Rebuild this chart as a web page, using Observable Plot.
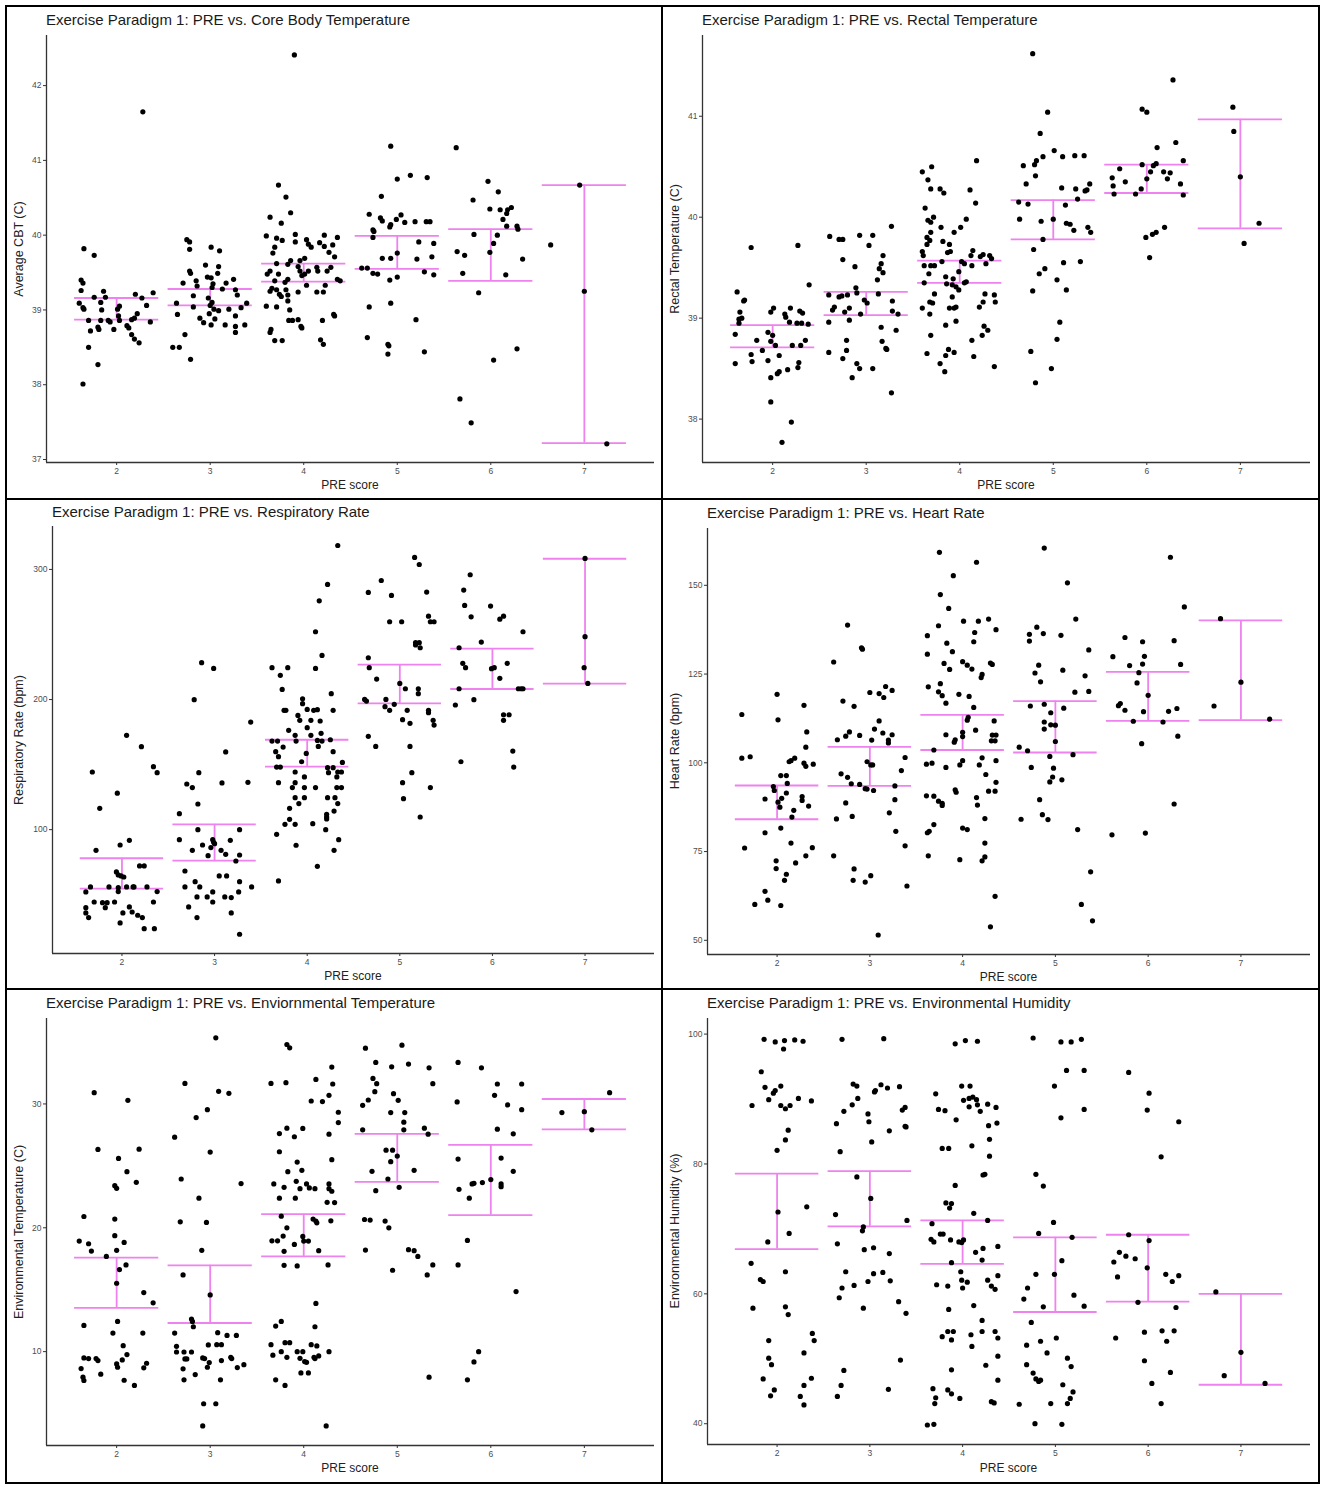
<!DOCTYPE html>
<html>
<head>
<meta charset="utf-8">
<script src="https://cdn.jsdelivr.net/npm/d3@7"></script>
<script src="https://cdn.jsdelivr.net/npm/@observablehq/plot@0.6"></script>
<style>
  html, body { margin: 0; padding: 0; background: #fff; }
  #root { position: relative; width: 1325px; height: 1489px; font-family: "Liberation Sans", Arial, sans-serif; }
  .frame { position: absolute; left: 5px; top: 5px; width: 1311px; height: 1475px; border: 2px solid #000; }
  .vdiv { position: absolute; left: 661px; top: 6px; width: 2px; height: 1477px; background: #000; }
  .hdiv { position: absolute; left: 6px; width: 1313px; height: 2px; background: #000; }
  .panel { position: absolute; }
  .panel svg { position: absolute; left: 0; top: 0; }
  .ptitle { position: absolute; font-size: 15px; line-height: 16px; color: #1a1a1a; white-space: nowrap; }
  .xtitle { position: absolute; font-size: 12px; line-height: 14px; color: #222; text-align: center; white-space: nowrap; }
  .ytitle { position: absolute; font-size: 12.5px; line-height: 14px; color: #222; white-space: nowrap; transform: translate(-50%, -50%) rotate(-90deg); }
</style>
</head>
<body>
<div id="root">
  <div class="frame"></div>
  <div class="vdiv"></div>
  <div class="hdiv" style="top:498px"></div>
  <div class="hdiv" style="top:988px"></div>
</div>
<script>
const preScores = [2, 3, 4, 5, 6, 7];

// ---- Panel 1: Core body temperature ----
const cbtPoints = [
[1.65,39.82],[1.76,39.73],[1.62,39.40],[1.64,39.36],[1.62,39.26],[1.60,39.09],[1.64,39.03],[1.65,39.01],[1.70,38.86],[1.72,38.72],
[1.70,38.50],[1.80,38.27],[1.64,38.01],[1.76,39.17],[1.86,39.25],[1.88,39.17],[1.83,39.10],[1.84,39.00],[1.83,38.86],[1.80,38.77],
[1.81,38.74],[1.91,38.86],[1.93,38.84],[1.97,38.74],[2.01,39.01],[2.03,39.05],[2.02,38.92],[2.03,38.86],[2.11,38.79],[2.13,38.76],
[2.16,38.67],[2.19,38.61],[2.24,38.56],[2.16,38.87],[2.19,38.89],[2.22,38.95],[2.20,39.21],[2.27,39.16],[2.32,39.06],[2.36,38.84],
[2.39,39.23],[2.28,41.65],
[2.75,39.94],[2.78,39.91],[2.78,39.81],[3.01,39.84],[3.10,39.79],[2.95,39.60],[3.09,39.58],[3.08,39.49],[2.78,39.52],[2.79,39.49],
[2.71,39.36],[2.85,39.39],[2.86,39.32],[2.97,39.44],[3.01,39.43],[3.03,39.35],[3.02,39.30],[3.13,39.28],[3.17,39.36],[3.25,39.41],
[3.27,39.27],[3.29,39.20],[2.64,39.09],[2.82,39.19],[2.82,39.04],[3.02,39.10],[3.00,39.06],[3.04,39.01],[2.99,38.95],[3.09,38.99],
[3.20,39.01],[3.33,39.03],[3.39,39.09],[2.65,38.94],[2.89,38.89],[2.93,38.83],[3.01,38.80],[3.05,38.88],[3.16,38.80],[3.27,38.92],
[3.27,38.78],[3.37,38.80],[3.27,38.70],[2.73,38.67],[2.60,38.50],[2.67,38.50],[2.79,38.34],[2.98,39.16],
[3.90,42.41],[3.73,40.67],[3.81,40.51],[3.86,40.30],[3.64,40.24],[3.76,40.16],[3.60,39.99],[3.71,39.96],[3.77,39.93],[3.91,40.01],
[3.91,39.91],[4.03,39.94],[4.05,39.88],[4.08,39.84],[4.22,40.00],[4.17,39.90],[4.22,39.85],[4.31,39.87],[4.36,39.97],[3.69,39.84],
[3.67,39.76],[3.71,39.62],[3.83,39.61],[3.86,39.66],[3.96,39.66],[4.01,39.69],[4.27,39.77],[4.33,39.71],[3.64,39.52],[3.61,39.48],
[3.73,39.48],[3.94,39.58],[3.96,39.52],[3.98,39.46],[4.01,39.48],[4.05,39.52],[4.14,39.57],[4.15,39.52],[4.29,39.57],[4.25,39.52],
[4.36,39.41],[4.39,39.39],[3.69,39.39],[3.80,39.37],[3.83,39.41],[3.81,39.27],[3.66,39.29],[3.64,39.25],[3.74,39.21],[3.76,39.18],
[3.71,39.27],[3.83,39.20],[3.83,39.12],[3.94,39.24],[4.03,39.33],[4.14,39.24],[4.23,39.33],[4.21,39.24],[3.60,39.05],[3.71,39.04],
[3.85,39.00],[3.84,38.86],[3.88,38.86],[3.94,38.87],[3.97,38.78],[3.98,38.76],[4.20,38.86],[4.32,38.94],[4.33,38.92],[3.65,38.74],
[3.64,38.70],[3.69,38.59],[3.77,38.59],[4.18,38.60],[4.21,38.54],
[4.93,41.19],[5.14,40.80],[5.00,40.75],[5.32,40.77],[4.83,40.52],[4.70,40.28],[4.82,40.23],[4.84,40.19],[4.93,40.14],[4.92,40.11],
[4.99,40.21],[5.04,40.27],[5.08,40.17],[5.19,40.18],[5.31,40.18],[5.35,40.18],[4.74,40.07],[4.75,40.05],[4.74,39.97],[5.23,39.91],
[5.39,39.89],[5.00,39.76],[4.84,39.69],[4.93,39.69],[5.21,39.68],[5.37,39.71],[4.62,39.56],[4.68,39.56],[4.74,39.49],[4.79,39.48],
[5.00,39.44],[4.92,39.40],[5.29,39.51],[5.39,39.47],[4.93,39.09],[4.70,39.04],[5.20,38.87],[4.68,38.63],[4.90,38.54],[4.91,38.52],
[4.90,38.41],[5.29,38.44],
[5.63,41.17],[5.97,40.72],[5.81,40.47],[6.08,40.58],[5.99,40.35],[6.10,40.34],[6.18,40.34],[6.22,40.37],[6.13,40.21],[6.17,40.29],
[6.17,40.12],[6.28,40.12],[6.29,40.08],[5.82,40.01],[6.07,40.00],[6.03,39.89],[5.99,39.77],[5.64,39.78],[5.72,39.73],[6.34,39.68],
[5.70,39.49],[6.16,39.47],[5.87,39.23],[6.28,38.48],[6.03,38.33],[5.67,37.81],[5.79,37.49],
[6.64,39.87],[7.00,39.25],[7.24,37.21],[6.95,40.67]
];
const cbtLow  = [38.87, 39.06, 39.38, 39.55, 39.39, 37.22];
const cbtHigh = [39.16, 39.28, 39.62, 39.99, 40.08, 40.67];
const cbtTicks = [37, 38, 39, 40, 41, 42];

// ---- Panel 2: Rectal temperature ----
const rectPoints = [
[1.77,39.70],[1.62,39.26],[1.65,39.06],[1.64,38.99],[1.67,39.00],[1.64,38.95],[1.60,38.84],[1.60,38.55],[1.69,39.17],[1.70,39.18],
[1.77,38.64],[1.78,38.57],[1.83,38.78],[1.89,38.68],[1.95,38.86],[1.98,38.77],[2.00,38.83],[2.03,38.73],[1.95,38.58],[1.98,38.41],
[1.98,38.17],[1.98,39.06],[2.01,39.10],[2.07,38.63],[2.07,38.47],[2.05,38.45],[2.10,37.77],[2.13,39.04],[2.14,39.01],[2.19,39.10],
[2.18,38.96],[2.21,38.73],[2.16,38.49],[2.20,37.97],[2.27,38.51],[2.28,38.56],[2.30,38.73],[2.35,38.78],[2.29,39.07],[2.32,39.05],
[2.31,38.95],[2.26,38.95],[2.38,38.94],[2.39,39.33],[2.27,39.72],
[2.61,39.81],[2.71,39.78],[2.75,39.78],[2.93,39.82],[3.07,39.82],[3.03,39.72],[3.27,39.91],[3.18,39.62],[3.16,39.54],[3.14,39.49],
[3.18,39.45],[3.12,39.38],[2.75,39.58],[2.88,39.51],[2.89,39.30],[2.60,39.23],[2.71,39.21],[2.74,39.22],[2.80,39.23],[2.90,39.25],
[2.98,39.18],[3.01,39.15],[3.13,39.24],[3.28,39.17],[2.66,39.11],[2.64,39.08],[2.77,39.06],[2.82,39.10],[2.94,39.04],[2.82,38.98],
[2.60,38.96],[3.28,39.07],[3.34,39.04],[3.16,38.91],[3.32,38.88],[2.79,38.78],[3.17,38.77],[3.21,38.70],[3.22,38.69],[2.60,38.66],
[2.79,38.68],[2.75,38.60],[2.90,38.55],[2.93,38.50],[3.07,38.50],[2.85,38.41],[3.27,38.26],
[3.60,40.45],[3.70,40.50],[3.66,40.37],[3.69,40.28],[3.79,40.28],[3.83,40.24],[4.18,40.56],[4.11,40.27],[4.17,40.14],[3.63,40.09],
[3.72,40.00],[3.66,39.97],[3.69,39.95],[3.80,39.90],[4.01,39.90],[4.07,39.98],[3.69,39.85],[3.94,39.85],[3.65,39.80],[3.68,39.77],
[3.82,39.76],[3.89,39.73],[3.65,39.73],[3.60,39.66],[3.90,39.66],[3.87,39.65],[3.61,39.62],[3.62,39.52],[3.69,39.52],[3.73,39.52],
[3.81,39.56],[3.67,39.44],[3.99,39.46],[4.02,39.56],[4.05,39.54],[4.12,39.62],[4.14,39.67],[4.13,39.52],[4.22,39.61],[4.25,39.63],
[4.32,39.62],[4.34,39.59],[4.28,39.54],[3.62,39.35],[3.85,39.41],[3.86,39.34],[3.93,39.39],[3.92,39.33],[3.96,39.31],[3.99,39.28],
[4.05,39.35],[4.07,39.36],[3.73,39.24],[3.92,39.21],[4.27,39.24],[4.37,39.23],[4.25,39.16],[4.21,39.11],[4.38,39.16],[3.68,39.16],
[3.71,39.15],[3.60,39.10],[3.89,39.10],[3.94,39.10],[3.96,39.11],[3.68,39.04],[3.96,38.97],[3.85,38.93],[4.26,38.92],[4.30,38.88],
[4.24,38.83],[3.69,38.83],[4.13,38.78],[3.65,38.65],[3.88,38.69],[3.85,38.63],[3.94,38.66],[4.15,38.62],[3.79,38.55],[3.84,38.47],
[4.37,38.52],
[4.78,41.62],[4.94,41.04],[4.86,40.83],[5.01,40.66],[4.89,40.60],[5.10,40.60],[5.23,40.61],[5.33,40.61],[4.68,40.51],[4.80,40.52],
[4.82,40.56],[4.81,40.41],[4.71,40.33],[5.09,40.29],[5.24,40.28],[5.39,40.33],[5.34,40.26],[5.36,40.27],[5.26,40.18],[4.63,40.15],
[4.73,40.13],[5.13,40.12],[4.64,39.98],[4.87,39.96],[5.00,39.98],[5.14,39.94],[5.18,39.93],[5.22,39.87],[5.37,39.90],[5.40,39.85],
[4.89,39.78],[4.79,39.68],[5.11,39.55],[5.29,39.56],[4.91,39.49],[4.85,39.44],[5.04,39.38],[5.14,39.28],[4.78,39.27],[5.07,38.96],
[5.04,38.79],[4.76,38.67],[4.98,38.50],[4.81,38.36],
[6.28,41.36],[5.95,41.07],[6.00,41.04],[6.31,40.74],[6.11,40.69],[5.71,40.48],[5.63,40.39],[5.77,40.35],[5.64,40.31],[5.65,40.23],
[5.88,40.23],[5.94,40.28],[5.95,40.52],[6.07,40.51],[6.10,40.53],[6.04,40.45],[6.00,40.38],[6.18,40.45],[6.25,40.44],[6.22,40.38],
[6.36,40.33],[6.39,40.22],[6.39,40.56],[5.99,39.80],[6.06,39.83],[6.10,39.85],[6.19,39.90],[6.03,39.60],
[6.92,41.09],[6.93,40.85],[7.00,40.40],[7.20,39.94],[7.04,39.74]
];
const rectLow  = [38.71, 39.03, 39.35, 39.78, 40.24, 39.89];
const rectHigh = [38.93, 39.26, 39.57, 40.17, 40.52, 40.97];
const rectTicks = [38, 39, 40, 41];

// ---- Panel 3: Respiratory rate ----
const respPoints = [
[1.68,144.3],[1.95,128.0],[1.76,116.4],[2.05,172.5],[2.21,163.8],[2.34,148.4],[2.38,143.8],[1.72,84.1],[1.98,88.2],[2.08,91.8],
[1.94,67.5],[1.96,65.2],[1.99,64.4],[2.02,63.6],[2.19,72.1],[2.24,72.1],[1.66,56.0],[1.61,52.1],[1.86,56.0],[1.96,55.4],
[1.96,52.4],[2.05,56.0],[2.12,56.0],[2.13,56.0],[2.27,56.0],[2.38,52.4],[1.70,44.4],[1.79,43.9],[1.84,43.9],[1.92,44.4],
[1.82,40.0],[1.61,40.0],[1.61,36.0],[1.64,32.4],[2.01,36.0],[2.08,40.6],[2.11,36.7],[2.17,34.2],[2.22,32.4],[2.34,44.4],
[1.98,28.3],[2.24,23.9],[2.35,23.9],
[2.86,228.3],[2.99,223.9],[2.78,199.9],[3.39,182.7],[3.12,159.7],[2.83,143.8],[2.70,135.1],[2.76,132.3],[3.08,135.9],[3.36,136.4],
[2.82,119.7],[2.62,112.3],[2.82,100.0],[3.27,100.0],[2.62,92.3],[2.98,92.3],[2.99,90.3],[3.00,89.2],[2.87,88.2],[2.96,86.2],
[3.17,91.8],[2.76,84.1],[3.07,84.1],[3.12,81.0],[2.93,80.0],[3.27,80.5],[3.23,75.9],[2.68,68.2],[3.05,64.4],[3.13,64.4],
[2.79,60.0],[3.27,60.0],[2.68,56.0],[2.84,56.0],[3.26,52.1],[3.40,56.0],[2.98,52.1],[2.81,48.3],[2.92,48.3],[2.98,44.4],
[3.11,48.3],[3.18,47.8],[2.72,40.6],[2.81,32.4],[3.18,36.0],[3.27,19.6],
[4.33,318.4],[4.22,288.5],[4.13,275.9],[4.09,252.1],[4.16,233.9],[3.62,224.5],[3.79,224.5],[4.09,223.9],[3.71,218.6],[3.73,207.8],
[4.26,204.5],[3.95,200.6],[3.95,196.8],[3.75,191.7],[3.77,191.7],[4.00,192.4],[4.07,191.7],[4.11,192.2],[4.28,191.7],[3.90,187.8],
[3.92,184.0],[4.04,184.0],[4.14,183.5],[4.00,178.4],[3.80,176.3],[3.87,172.5],[4.04,172.5],[4.15,174.0],[3.62,168.1],[3.68,168.1],
[3.88,168.1],[4.11,168.6],[4.16,168.1],[4.25,169.1],[3.74,163.5],[3.66,159.9],[3.69,156.1],[4.28,159.9],[4.12,164.0],[3.99,158.6],
[3.94,152.2],[4.38,151.7],[3.67,148.1],[3.71,148.1],[4.22,147.6],[4.28,147.6],[3.87,144.3],[4.23,143.8],[4.33,144.3],[4.37,144.3],
[4.32,140.5],[3.97,140.5],[3.69,136.1],[3.87,136.1],[3.84,132.3],[3.97,132.3],[4.09,132.3],[4.32,132.3],[4.37,132.3],[3.87,124.6],
[3.97,124.6],[4.22,124.6],[4.30,124.6],[3.91,120.0],[4.33,120.0],[3.81,116.4],[4.29,114.3],[4.21,111.8],[4.21,109.7],[4.21,108.2],
[3.81,107.9],[3.76,104.1],[3.87,104.1],[4.06,104.6],[4.20,100.0],[3.67,96.4],[4.34,92.3],[3.88,88.0],[4.29,84.1],[4.11,71.8],
[3.69,60.6],
[5.16,309.2],[5.21,303.8],[4.80,291.5],[4.66,282.3],[5.29,282.6],[4.91,280.0],[5.31,264.1],[4.89,259.8],[5.02,259.8],[5.33,259.8],
[5.37,259.8],[5.17,243.7],[5.21,243.7],[5.17,241.9],[5.22,239.8],[4.66,232.1],[4.67,224.5],[4.75,215.7],[5.00,212.4],[5.06,208.3],
[5.20,208.3],[5.20,204.5],[4.62,200.1],[4.64,198.8],[4.85,200.1],[4.94,196.3],[4.84,194.5],[4.89,191.7],[5.08,191.7],[5.31,191.7],
[5.31,189.9],[5.03,184.5],[5.36,184.0],[5.37,180.4],[5.11,181.7],[4.66,171.7],[4.74,164.0],[5.11,164.0],[5.13,143.8],[5.03,136.1],
[5.33,132.3],[5.04,123.8],[5.22,109.7],
[5.76,295.9],[5.69,284.1],[5.70,272.3],[5.98,271.8],[5.77,263.6],[6.12,264.1],[6.08,261.8],[6.33,252.1],[5.88,244.2],[5.64,239.8],
[5.68,227.8],[6.16,227.8],[5.71,224.5],[5.99,223.7],[6.02,224.5],[6.08,216.3],[5.64,208.3],[6.28,208.3],[6.31,208.3],[6.33,208.3],
[5.60,195.8],[5.80,199.9],[6.12,188.3],[6.18,188.3],[6.12,184.0],[5.66,152.2],[6.22,160.4],[6.23,148.1],
[7.00,308.5],[7.00,248.3],[6.99,224.5],[7.03,212.4]
];
const respLow  = [54.7, 76.2, 148.4, 197.1, 208.1, 212.2];
const respHigh = [78.0, 104.1, 169.1, 226.8, 239.1, 308.2];
const respTicks = [100, 200, 300];

// ---- Panel 4: Heart rate ----
const hrPoints = [
[1.62,113.6],[1.62,101.3],[1.71,101.7],[1.65,76.0],[1.76,60.1],[1.87,89.8],[1.87,80.3],[1.87,63.8],[1.90,61.3],[1.96,93.3],
[1.97,92.2],[2.00,119.3],[2.01,112.1],[2.01,88.9],[2.03,87.5],[2.05,90.0],[2.04,96.4],[2.10,96.4],[2.11,94.2],[2.10,91.5],
[2.04,81.6],[2.18,86.6],[2.16,84.7],[2.13,100.3],[2.15,100.6],[2.19,101.3],[1.99,72.4],[1.99,70.2],[2.10,68.6],[2.08,66.9],
[2.15,77.4],[2.20,71.8],[2.04,59.8],[2.29,116.2],[2.32,108.7],[2.31,104.4],[2.29,99.9],[2.31,99.0],[2.39,99.6],[2.27,90.5],
[2.27,89.4],[2.34,87.8],[2.38,76.1],[2.31,73.8],
[2.76,138.8],[2.61,128.4],[2.91,132.4],[2.92,132.0],[2.71,117.4],[2.83,115.9],[3.17,121.5],[3.24,120.4],[3.00,119.8],[3.10,119.5],
[3.15,118.4],[3.10,111.8],[3.05,109.5],[2.78,108.7],[2.74,107.5],[2.89,107.7],[2.65,106.5],[3.02,106.4],[3.14,108.4],[3.20,106.4],
[3.24,107.9],[3.20,105.6],[2.97,100.3],[3.38,101.5],[3.01,99.4],[3.03,99.4],[3.34,97.8],[2.69,96.9],[2.76,95.9],[2.80,94.1],
[2.89,93.9],[2.95,92.7],[2.97,92.6],[3.04,92.2],[3.27,93.5],[2.74,88.7],[3.27,89.6],[2.81,84.9],[2.64,84.2],[3.21,85.9],
[3.28,80.7],[3.38,76.6],[2.61,73.8],[2.83,70.1],[2.82,66.9],[2.95,66.4],[3.01,68.2],[3.40,65.3],[3.09,51.5],
[3.75,159.3],[4.15,156.5],[3.90,152.7],[3.76,147.4],[3.85,143.5],[3.74,138.6],[4.01,139.9],[4.17,139.9],[4.28,140.5],[4.36,137.5],
[3.62,135.8],[4.13,136.7],[3.83,133.7],[3.89,131.3],[3.62,130.6],[4.12,134.1],[3.80,128.0],[4.00,128.5],[4.05,127.5],[4.10,126.4],
[3.86,126.3],[4.21,124.9],[4.20,124.0],[4.30,128.1],[4.32,127.7],[3.63,121.4],[3.76,122.3],[3.74,120.0],[3.78,118.9],[3.96,119.3],
[4.07,118.7],[3.82,116.8],[4.12,115.6],[4.06,112.8],[4.05,112.0],[4.14,109.2],[4.34,111.8],[3.82,107.9],[4.00,108.6],[4.00,107.4],
[3.92,106.5],[3.91,105.8],[4.32,107.8],[4.36,107.8],[4.31,106.2],[4.35,106.2],[3.69,103.6],[3.61,99.6],[3.67,99.9],[3.82,98.7],
[3.97,99.4],[4.00,100.6],[4.21,101.4],[4.18,99.4],[4.25,96.7],[4.36,100.6],[4.36,94.5],[3.92,92.4],[3.93,91.7],[4.28,92.0],
[4.35,92.0],[3.61,90.7],[3.69,90.6],[3.74,89.2],[3.78,88.6],[3.78,88.0],[4.15,90.2],[4.16,88.1],[4.24,84.3],[3.69,82.6],
[3.64,80.7],[3.62,80.3],[4.00,81.6],[4.05,81.2],[4.24,77.4],[3.63,73.8],[3.97,72.7],[4.24,73.5],[4.21,72.4],[4.35,62.4],
[4.30,53.8],
[4.88,160.5],[5.13,150.7],[5.22,140.5],[4.80,138.2],[4.72,136.2],[4.87,136.4],[5.06,135.9],[4.72,134.3],[5.36,131.8],[4.82,127.5],
[4.78,125.3],[5.08,126.1],[4.84,122.8],[5.32,124.5],[5.21,119.9],[5.36,120.1],[4.73,116.0],[4.88,116.5],[4.95,114.1],[5.09,115.4],
[4.88,111.5],[4.95,110.7],[5.00,110.6],[4.88,109.5],[5.00,106.0],[4.61,104.4],[4.70,103.4],[4.94,101.8],[5.19,102.3],[4.74,98.7],
[4.98,98.5],[4.97,96.0],[5.07,95.2],[4.94,94.6],[4.83,89.6],[4.63,84.1],[4.86,85.4],[4.92,84.0],[5.24,81.2],[5.38,69.3],
[5.28,60.1],[5.40,55.5],
[6.24,157.9],[6.39,143.9],[5.62,129.9],[5.75,135.3],[5.94,134.1],[6.28,134.4],[5.96,130.0],[5.80,127.4],[5.94,127.8],[6.35,127.7],
[5.90,125.4],[5.88,122.5],[6.00,119.0],[5.68,116.1],[5.70,116.7],[5.75,114.8],[5.84,111.7],[5.95,114.4],[6.16,111.5],[6.22,114.5],
[6.31,115.3],[6.32,107.5],[5.93,105.4],[6.28,88.4],[5.61,79.7],[5.97,80.2],
[6.78,140.6],[7.00,122.7],[6.71,116.0],[7.31,112.3]
];
const hrLow  = [84.1, 93.5, 103.6, 102.9, 111.8, 112.0];
const hrHigh = [93.6, 104.5, 113.5, 117.4, 125.6, 140.1];
const hrTicks = [50, 75, 100, 125, 150];

// ---- Panel 5: Environmental temperature ----
const envTPoints = [
[1.76,30.91],[2.12,30.29],[1.80,26.33],[2.24,26.35],[2.02,25.60],[2.11,24.53],[2.21,23.67],[1.98,23.40],[2.00,23.19],[1.65,20.91],
[1.98,20.70],[1.60,18.93],[1.70,18.71],[1.73,18.12],[1.98,19.36],[2.00,18.18],[2.08,18.82],[1.89,17.69],[2.03,16.62],[2.10,17.00],
[2.00,15.52],[2.29,14.77],[2.39,13.94],[1.65,12.12],[2.01,12.44],[1.96,11.50],[2.28,11.50],[2.07,10.48],[2.11,9.76],[1.65,9.49],
[1.70,9.44],[1.78,9.44],[1.80,9.28],[2.06,9.33],[2.00,9.01],[2.01,8.74],[2.32,9.06],[2.29,8.69],[1.62,8.63],[1.64,7.94],
[1.65,7.67],[1.83,8.18],[2.08,7.69],[2.19,7.27],
[3.06,35.34],[2.73,31.66],[3.09,31.02],[3.20,30.86],[2.97,29.54],[2.85,28.90],[2.62,27.32],[3.00,26.11],[2.69,23.94],[3.33,23.57],
[2.88,22.39],[2.68,20.48],[2.96,20.43],[2.91,18.18],[2.71,16.19],[3.00,14.58],[2.80,12.63],[2.81,12.44],[2.82,12.01],[2.62,11.50],
[3.08,11.53],[3.18,11.31],[3.28,11.31],[2.64,10.43],[2.98,10.54],[3.07,10.56],[3.12,10.56],[2.64,9.97],[2.72,9.97],[2.80,9.97],
[2.73,9.41],[2.75,9.41],[2.92,9.49],[2.94,9.44],[2.99,9.12],[3.12,9.28],[3.22,9.54],[3.23,9.44],[2.97,8.74],[3.29,8.71],
[3.36,8.95],[2.71,8.61],[2.84,8.15],[2.72,7.72],[3.11,7.72],[2.93,5.79],[3.06,5.79],[2.92,4.00],
[3.82,34.80],[3.85,34.53],[4.30,32.98],[4.13,31.98],[3.65,31.66],[3.81,31.72],[4.31,31.61],[4.27,30.70],[4.08,30.24],[4.20,30.19],
[4.37,29.33],[4.37,28.50],[3.82,28.04],[3.99,28.02],[3.74,27.61],[4.27,27.56],[3.90,27.35],[3.74,26.14],[4.30,25.50],[3.93,25.31],
[3.83,24.53],[3.98,24.64],[3.92,23.75],[3.68,23.54],[3.79,23.27],[3.96,23.16],[4.03,23.54],[4.06,23.22],[4.12,23.16],[4.27,23.54],
[4.27,23.16],[4.30,22.95],[3.74,22.39],[3.91,22.39],[4.25,22.06],[4.33,22.04],[3.76,20.94],[4.10,20.70],[4.13,20.54],[4.14,20.40],
[4.29,20.56],[3.82,20.00],[3.78,19.33],[3.66,18.95],[3.72,18.95],[3.99,19.30],[4.00,18.93],[4.05,18.93],[3.90,18.66],[3.79,18.10],
[4.16,18.15],[3.79,16.97],[3.93,16.92],[4.26,17.00],[4.13,13.89],[3.76,12.44],[3.70,12.06],[4.12,12.01],[3.65,10.56],[3.80,10.72],
[3.85,10.72],[4.08,10.56],[4.14,10.46],[3.67,9.71],[3.82,9.54],[3.76,10.00],[3.93,10.00],[3.99,10.00],[4.27,10.00],[3.96,9.46],
[4.03,9.14],[4.01,9.20],[4.11,9.54],[4.12,9.44],[4.16,9.65],[3.97,8.28],[4.05,8.28],[3.70,7.72],[3.80,7.27],[4.24,4.00],
[5.05,34.75],[4.66,34.50],[4.77,33.35],[5.12,33.22],[4.94,33.00],[5.34,32.92],[4.74,32.06],[4.78,31.64],[5.38,31.64],[4.76,30.99],
[4.96,30.83],[4.69,30.32],[5.01,30.29],[4.63,29.89],[4.93,29.30],[5.08,29.30],[5.07,28.53],[4.63,27.91],[5.07,27.91],[5.29,28.04],
[5.33,27.56],[4.88,26.27],[4.95,26.27],[5.00,25.79],[4.93,25.34],[4.73,24.56],[5.18,24.64],[4.90,23.94],[5.02,23.27],[4.77,23.00],
[4.65,20.67],[4.71,20.62],[4.87,20.54],[4.91,20.00],[4.66,18.20],[5.12,18.23],[5.18,18.15],[5.22,17.69],[5.38,17.00],[4.95,16.57],
[5.32,16.19],[5.34,7.94],
[5.65,33.35],[5.90,32.92],[6.07,31.61],[6.33,31.61],[6.04,30.70],[5.64,30.16],[6.18,29.92],[6.33,29.54],[6.07,27.96],[6.24,27.59],
[5.65,25.55],[6.11,25.63],[6.24,24.56],[6.00,23.89],[5.66,23.11],[5.80,23.54],[5.82,23.59],[5.91,23.65],[6.11,23.54],[6.11,23.32],
[5.77,22.39],[5.75,18.98],[5.65,17.00],[6.27,14.85],[5.87,10.00],[5.82,9.17],[5.75,7.72],
[7.27,30.91],[6.76,29.30],[7.00,29.38],[7.08,27.91]
];
const envTLow  = [13.54, 12.31, 17.69, 23.70, 21.02, 27.94];
const envTHigh = [17.59, 16.97, 21.10, 27.59, 26.70, 30.40];
const envTTicks = [10, 20, 30];

// ---- Panel 6: Environmental humidity ----
const humPoints = [
[1.86,99.2],[1.98,98.8],[2.08,99.0],[2.07,97.7],[2.19,99.1],[2.28,98.9],[1.83,94.2],[1.87,91.8],[1.98,91.3],[2.04,92.0],
[1.96,90.9],[1.91,89.9],[2.23,90.1],[2.37,89.7],[1.73,89.0],[2.04,89.0],[2.09,88.5],[2.14,89.0],[2.12,85.2],[2.09,83.7],
[2.00,82.1],[2.32,73.4],[2.01,72.6],[2.13,69.3],[1.90,68.0],[1.72,64.7],[1.82,62.2],[1.85,61.9],[2.09,63.4],[1.74,57.8],
[2.09,58.0],[2.12,56.8],[2.38,53.9],[2.40,52.8],[1.91,52.8],[1.91,50.1],[1.94,49.1],[2.29,50.9],[1.85,46.9],[2.37,47.0],
[2.29,45.9],[1.97,45.2],[1.93,44.3],[2.25,44.2],[2.29,42.9],
[2.70,99.2],[3.15,99.3],[2.82,92.3],[2.86,92.0],[3.12,92.2],[3.06,91.3],[3.05,91.1],[3.19,91.7],[3.32,91.9],[2.87,90.1],
[2.81,89.1],[2.72,88.1],[2.98,87.7],[2.99,86.5],[2.64,86.2],[3.38,88.7],[3.35,88.3],[3.38,85.8],[3.39,85.7],[3.21,85.1],
[3.02,83.4],[2.68,81.9],[2.86,78.0],[3.01,74.7],[2.63,72.2],[3.40,71.3],[2.93,70.3],[2.92,69.7],[2.65,67.7],[2.94,66.8],
[3.04,67.1],[3.21,66.2],[2.74,63.4],[3.04,63.1],[3.14,63.3],[2.70,60.9],[2.83,61.3],[2.98,61.9],[3.22,62.0],[2.67,59.4],
[2.93,57.8],[3.31,58.8],[3.39,57.0],[3.33,49.8],[2.72,48.2],[2.69,45.9],[2.65,44.2],[3.20,45.3],
[3.92,98.5],[4.03,99.0],[4.16,98.9],[3.71,90.8],[3.99,92.0],[4.08,92.0],[4.01,89.8],[4.07,90.1],[4.11,90.3],[4.15,89.9],
[4.16,89.1],[4.07,88.8],[4.27,89.2],[4.36,88.7],[3.74,88.4],[3.81,88.2],[4.19,88.1],[3.93,86.8],[4.37,86.3],[4.28,85.9],
[4.29,83.8],[3.78,82.4],[3.85,82.4],[4.10,82.8],[4.29,81.2],[4.22,78.3],[4.24,78.4],[3.92,76.7],[3.82,74.0],[3.88,73.9],
[3.86,73.2],[4.12,72.4],[4.27,71.3],[3.67,70.8],[3.66,68.4],[3.69,68.0],[3.76,69.2],[3.79,69.2],[3.87,68.3],[3.96,68.0],
[3.99,67.9],[4.01,68.3],[4.38,67.3],[4.22,67.0],[4.14,66.4],[4.21,65.2],[3.88,64.8],[3.98,63.4],[4.38,62.8],[3.99,62.1],
[4.05,61.8],[4.27,62.1],[3.72,61.4],[3.84,61.2],[4.00,60.9],[4.31,61.2],[4.35,60.7],[4.12,58.2],[3.85,57.6],[4.21,55.9],
[3.84,54.2],[3.90,54.2],[4.21,54.2],[4.35,54.2],[4.09,53.7],[3.78,53.4],[3.88,52.9],[4.38,53.2],[4.10,51.9],[4.38,50.4],
[3.88,48.3],[4.25,49.0],[4.38,46.7],[3.68,45.4],[3.84,45.2],[3.88,44.6],[3.97,43.9],[3.71,44.0],[3.70,43.1],[4.31,43.4],
[4.34,43.2],[3.62,39.8],[3.69,39.9],
[4.76,99.4],[5.06,98.8],[5.17,98.8],[5.28,99.2],[5.12,94.4],[5.31,94.4],[4.99,92.0],[5.06,87.1],[5.31,88.4],[4.79,78.4],
[4.87,76.6],[4.98,71.0],[4.82,69.3],[5.18,68.7],[5.07,65.1],[4.99,63.0],[4.79,63.0],[4.70,60.9],[4.66,59.2],[4.87,58.0],
[5.20,59.8],[5.31,58.1],[4.74,55.6],[5.01,53.2],[4.69,52.1],[4.84,52.7],[4.91,50.9],[5.13,50.1],[5.17,48.8],[4.69,49.1],
[4.76,47.8],[4.79,46.9],[4.82,46.5],[4.84,46.7],[5.08,46.0],[5.19,44.9],[5.16,43.9],[5.13,43.1],[4.95,43.1],[4.61,43.0],
[4.78,40.0],[5.07,39.9],
[5.79,94.1],[6.01,90.9],[5.99,88.3],[6.33,86.5],[6.14,81.1],[5.79,69.1],[6.01,68.2],[5.69,66.4],[5.76,65.8],[5.86,65.4],
[5.63,64.9],[5.67,62.6],[5.99,64.0],[6.19,63.0],[6.33,62.8],[6.26,61.9],[5.89,58.7],[6.30,57.9],[5.96,54.1],[6.15,54.3],
[6.28,54.3],[6.20,52.7],[5.65,53.2],[5.96,49.7],[6.24,47.9],[6.04,46.2],[6.14,43.1],
[6.73,60.3],[7.00,51.0],[6.82,47.4],[7.26,46.2]
];
const humLow  = [66.9, 70.4, 64.6, 57.2, 58.8, 46.0];
const humHigh = [78.5, 78.9, 71.3, 68.7, 69.1, 60.0];
const humTicks = [40, 60, 80, 100];

// ---------- drawing ----------
const ERR_COLOR = "#ee82ee";
const CAP_HALF = 0.45;

function addPanel(cfg) {
  const root = document.getElementById("root");
  const div = document.createElement("div");
  div.className = "panel";
  div.style.left = cfg.left + "px";
  div.style.top = cfg.top + "px";
  div.style.width = cfg.width + "px";
  div.style.height = cfg.height + "px";

  const bars = preScores.map((p, i) => ({pre: p, low: cfg.low[i], high: cfg.high[i]}));
  const pts = cfg.points.map(([x, y]) => ({x, y}));
  const xDomain = [1.25, 7.75];

  const chart = Plot.plot({
    width: cfg.width,
    height: cfg.height,
    marginLeft: cfg.mL,
    marginRight: 8,
    marginTop: cfg.mT,
    marginBottom: cfg.height - cfg.axisY,
    style: {background: "transparent", fontFamily: "'Liberation Sans', Arial, sans-serif", fontSize: "8.5px", color: "#4d4d4d"},
    x: {domain: xDomain},
    y: {domain: cfg.yDomain},
    marks: [
      Plot.axisX({ticks: preScores, tickSize: 3, tickPadding: 2, tickFormat: d => String(d), label: null, stroke: "#333", fill: "#4d4d4d"}),
      Plot.axisY({ticks: cfg.ticks, tickSize: 3, tickPadding: 2, tickFormat: d => String(d), label: null, stroke: "#333", fill: "#4d4d4d"}),
      Plot.ruleY([cfg.yDomain[0]], {stroke: "#333", strokeWidth: 1.3}),
      Plot.ruleX([xDomain[0]], {stroke: "#333", strokeWidth: 1.3}),
      Plot.ruleX(bars, {x: "pre", y1: "low", y2: "high", stroke: ERR_COLOR, strokeWidth: 1.8}),
      Plot.ruleY(bars, {y: "low", x1: d => d.pre - CAP_HALF, x2: d => d.pre + CAP_HALF, stroke: ERR_COLOR, strokeWidth: 1.8}),
      Plot.ruleY(bars, {y: "high", x1: d => d.pre - CAP_HALF, x2: d => d.pre + CAP_HALF, stroke: ERR_COLOR, strokeWidth: 1.8}),
      Plot.dot(pts, {x: "x", y: "y", r: 2.6, fill: "#000", stroke: "none"})
    ]
  });
  div.appendChild(chart);

  const t = document.createElement("div");
  t.className = "ptitle";
  t.style.left = cfg.mL + "px";
  t.style.top = (cfg.titleY - 8) + "px";
  t.textContent = cfg.title;
  div.appendChild(t);

  const plotRight = cfg.width - 8;
  const xt = document.createElement("div");
  xt.className = "xtitle";
  xt.style.left = cfg.mL + "px";
  xt.style.width = (plotRight - cfg.mL) + "px";
  xt.style.top = (cfg.xTitleY - 7) + "px";
  xt.textContent = "PRE score";
  div.appendChild(xt);

  const yt = document.createElement("div");
  yt.className = "ytitle";
  yt.style.left = "12px";
  yt.style.top = ((cfg.mT + cfg.axisY) / 2) + "px";
  yt.textContent = cfg.yLabel;
  div.appendChild(yt);

  root.appendChild(div);
}

addPanel({left: 7, top: 7, width: 655, height: 492, mL: 39, mT: 28, axisY: 455, titleY: 13, xTitleY: 478,
  title: "Exercise Paradigm 1: PRE vs. Core Body Temperature", yLabel: "Average CBT (C)",
  yDomain: [36.96, 42.67], ticks: cbtTicks, points: cbtPoints, low: cbtLow, high: cbtHigh});
addPanel({left: 663, top: 7, width: 655, height: 492, mL: 39, mT: 28, axisY: 455, titleY: 13, xTitleY: 478,
  title: "Exercise Paradigm 1: PRE vs. Rectal Temperature", yLabel: "Rectal Temperature (C)",
  yDomain: [37.57, 41.80], ticks: rectTicks, points: rectPoints, low: rectLow, high: rectHigh});
addPanel({left: 7, top: 500, width: 655, height: 489, mL: 45, mT: 26, axisY: 453, titleY: 12, xTitleY: 476,
  title: "Exercise Paradigm 1: PRE vs. Respiratory Rate", yLabel: "Respiratory Rate (bpm)",
  yDomain: [4.8, 333], ticks: respTicks, points: respPoints, low: respLow, high: respHigh});
addPanel({left: 663, top: 500, width: 655, height: 489, mL: 44, mT: 28, axisY: 454, titleY: 13, xTitleY: 477,
  title: "Exercise Paradigm 1: PRE vs. Heart Rate", yLabel: "Heart Rate (bpm)",
  yDomain: [46, 166], ticks: hrTicks, points: hrPoints, low: hrLow, high: hrHigh});
addPanel({left: 7, top: 990, width: 655, height: 492, mL: 39, mT: 28, axisY: 455, titleY: 13, xTitleY: 478,
  title: "Exercise Paradigm 1: PRE vs. Enviornmental Temperature", yLabel: "Environmental Temperature (C)",
  yDomain: [2.42, 36.9], ticks: envTTicks, points: envTPoints, low: envTLow, high: envTHigh});
addPanel({left: 663, top: 990, width: 655, height: 492, mL: 44, mT: 28, axisY: 454, titleY: 13, xTitleY: 478,
  title: "Exercise Paradigm 1: PRE vs. Environmental Humidity", yLabel: "Environmental Humidity (%)",
  yDomain: [36.8, 102.4], ticks: humTicks, points: humPoints, low: humLow, high: humHigh});
</script>
</body>
</html>
